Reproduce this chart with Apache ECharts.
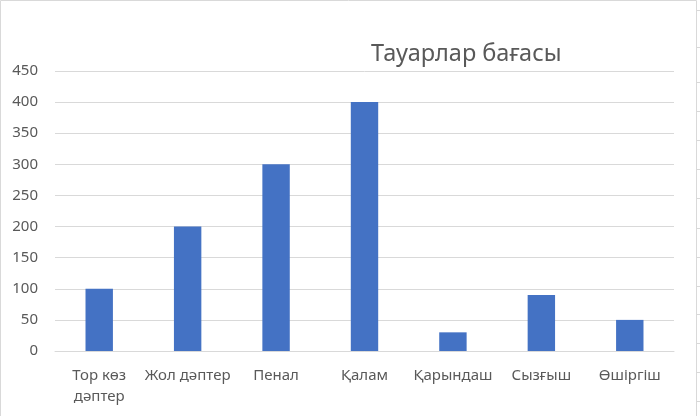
<!DOCTYPE html>
<html>
<head>
<meta charset="utf-8">
<script src="https://cdn.jsdelivr.net/npm/echarts@6/dist/echarts.min.js"></script>
<style>
  html, body { margin: 0; padding: 0; background: #fff; }
  #chart { width: 700px; height: 416px; }
</style>
</head>
<body>
<div id="chart"></div>
<script>
// категориялар мен бағалар
const categories = ["Тор көз\nдәптер", "Жол дәптер", "Пенал", "Қалам", "Қарындаш", "Сызғыш", "Өшіргіш"];
const prices = [100, 200, 300, 400, 30, 90, 50];
const titleText = "Тауарлар бағасы";
// sheet grid marks at the right edge
const sheetRows = [10, 47, 82, 111, 140, 169, 198, 228, 257, 286, 314, 343, 372, 401];

const myChart = echarts.init(document.getElementById("chart"));

const graphics = [
  {
    type: "rect",
    shape: { x: 0.5, y: 0.5, width: 696, height: 420 },
    style: { fill: "none", stroke: "#d9d9d9", lineWidth: 1 },
    silent: true,
  },
];
sheetRows.forEach((y) => {
  graphics.push({
    type: "line",
    shape: { x1: 697, y1: y + 0.5, x2: 700, y2: y + 0.5 },
    style: { stroke: "#d9d9d9", lineWidth: 1 },
    silent: true,
  });
});

const option = {
  animation: false,
  title: {
    text: titleText,
    left: 366,
    top: 37,
    textStyle: {
      fontFamily: "Noto Sans",
      fontSize: 23.5,
      fontWeight: "normal",
      color: "#595959",
    },
  },
  grid: {
    left: 55,
    right: 26,
    top: 71,
    bottom: 65,
  },
  xAxis: {
    type: "category",
    data: categories,
    axisLine: { lineStyle: { color: "#d9d9d9" } },
    axisTick: { show: false },
    axisLabel: {
      color: "#595959",
      fontFamily: "Noto Sans",
      fontSize: 15,
      margin: 14,
      lineHeight: 21,
      interval: 0,
    },
  },
  yAxis: {
    type: "value",
    min: 0,
    max: 450,
    interval: 50,
    axisLine: { show: false },
    axisTick: { show: false },
    axisLabel: {
      color: "#595959",
      fontFamily: "Noto Sans",
      fontSize: 15,
      margin: 17,
    },
    splitLine: { lineStyle: { color: "#d9d9d9" } },
  },
  series: [
    {
      type: "bar",
      data: prices,
      barWidth: "31%",
      itemStyle: { color: "#4472c4" },
    },
  ],
  graphic: graphics,
};

myChart.setOption(option);
</script>
</body>
</html>
